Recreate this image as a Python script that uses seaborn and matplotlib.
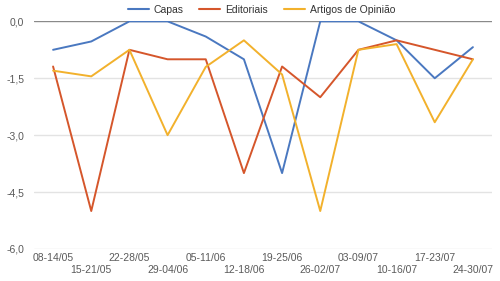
import matplotlib
matplotlib.use("Agg")
import matplotlib.pyplot as plt
import seaborn as sns
import pandas as pd

sns.set_theme(style="white")
plt.rcParams["font.family"] = ["Liberation Sans", "DejaVu Sans"]

# week labels and the three series
weeks = ["08-14/05", "15-21/05", "22-28/05", "29-04/06", "05-11/06", "12-18/06",
         "19-25/06", "26-02/07", "03-09/07", "10-16/07", "17-23/07", "24-30/07"]
capas = [-0.75, -0.53, 0.0, 0.0, -0.4, -1.0, -4.0, 0.0, 0.0, -0.5, -1.5, -0.68]
editoriais = [-1.19, -5.0, -0.75, -1.0, -1.0, -4.0, -1.19, -2.0, -0.75, -0.5, -0.75, -1.0]
artigos = [-1.3, -1.45, -0.75, -3.0, -1.2, -0.5, -1.4, -5.0, -0.75, -0.6, -2.66, -1.0]

series = {"Capas": capas, "Editoriais": editoriais, "Artigos de Opinião": artigos}
colors = {"Capas": "#4a78c0", "Editoriais": "#d5562b", "Artigos de Opinião": "#f2b12c"}

df = pd.concat([
    pd.DataFrame({"pos": range(len(weeks)), "valor": vals, "serie": name})
    for name, vals in series.items()
])

fig = plt.figure(figsize=(5, 2.81), dpi=100)
ax = fig.add_axes([0.068, 0.114, 0.916, 0.81])

sns.lineplot(data=df, x="pos", y="valor", hue="serie", palette=colors,
             sort=False, linewidth=1.4, ax=ax, legend=False)

ax.set_xlim(-0.5, len(weeks) - 0.5)
ax.set_ylim(-6, 0)
yt = [0, -1.5, -3.0, -4.5, -6.0]
ax.set_yticks(yt)
ax.set_yticklabels([f"{v:.1f}".replace(".", ",") for v in yt])
for v in yt[1:]:
    ax.axhline(v, color="#e3e3e3", lw=1, zorder=0)
ax.axhline(0, color="#8a8a8a", lw=1, zorder=0.5)

ax.set_xticks(range(len(weeks)))
ax.set_xticklabels([w if i % 2 == 0 else "\n" + w for i, w in enumerate(weeks)])
ax.tick_params(axis="both", length=0, labelsize=7.5, colors="#5a5a5a")
ax.tick_params(axis="x", pad=3)
ax.tick_params(axis="y", pad=7)
ax.set_xlabel("")
ax.set_ylabel("")
for s in ax.spines.values():
    s.set_visible(False)

handles = [plt.Line2D([], [], color=colors[n], lw=1.5) for n in series]
fig.legend(handles, list(series), loc="center", bbox_to_anchor=(0.523, 0.965),
           ncol=3, frameon=False, fontsize=7.5, handlelength=2.0,
           columnspacing=1.5, handletextpad=0.5, labelcolor="#333333")

fig.savefig("out.png", dpi=100)
